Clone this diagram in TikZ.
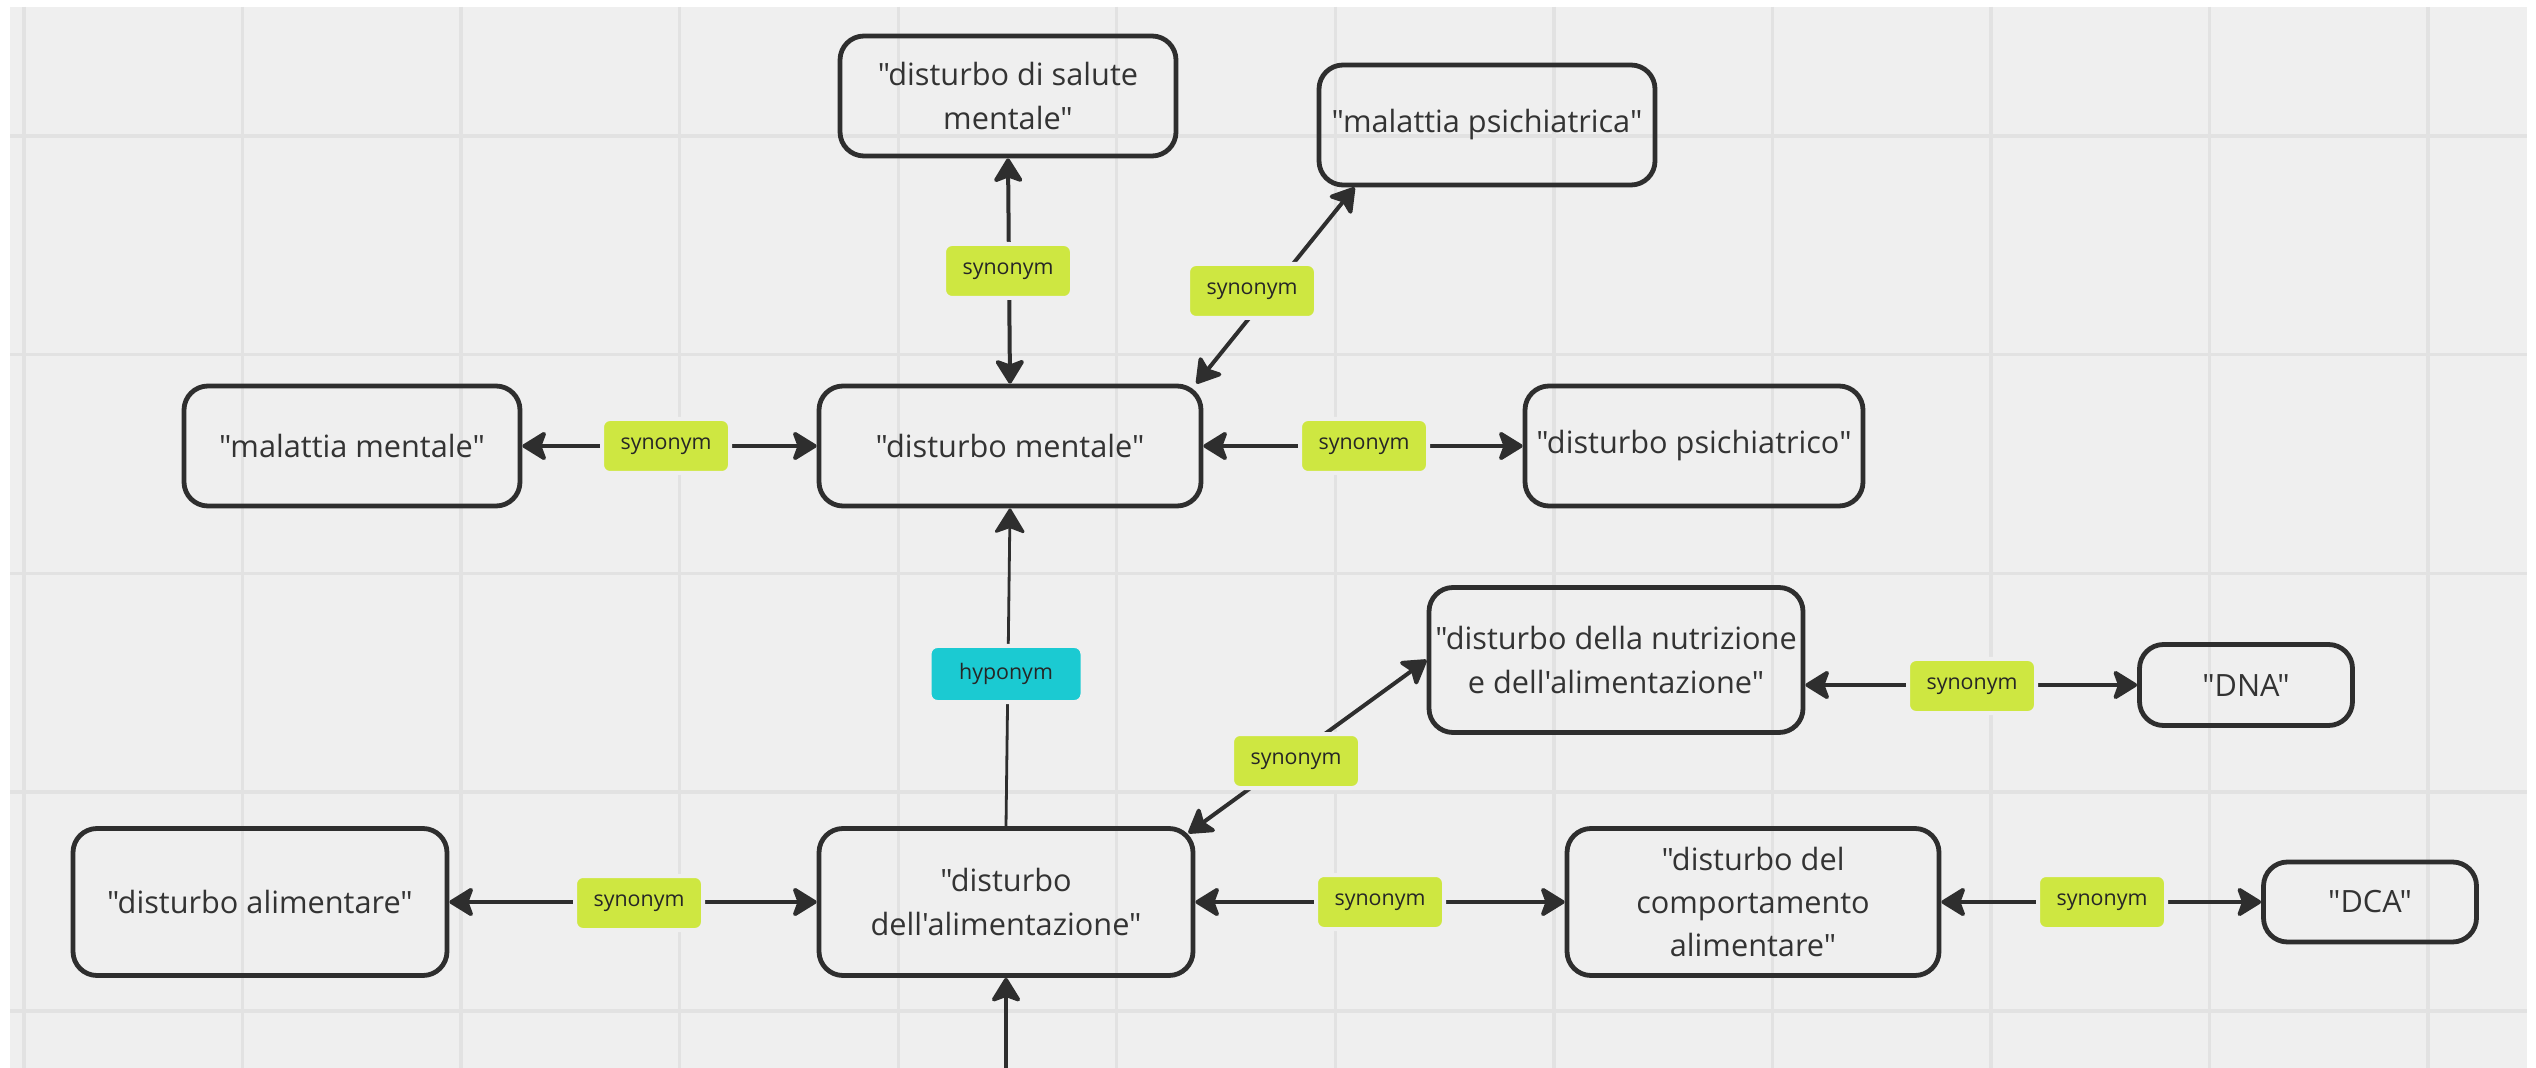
\documentclass[tikz,border=0pt]{standalone}
\usepackage{fontspec}
\newfontfamily\osans{Open Sans}
\usetikzlibrary{arrows.meta}
\definecolor{bgc}{HTML}{EFEFEF}
\definecolor{gridc}{HTML}{E2E2E2}
\definecolor{ink}{HTML}{2E2E2E}
\definecolor{txt}{HTML}{333333}
\definecolor{syn}{HTML}{CEE741}
\definecolor{hypc}{HTML}{1BCAD2}
\begin{document}
\begin{tikzpicture}[x=0.5pt,y=-0.5pt,
 concept/.style={draw=ink, line width=2.4pt, rounded corners=12pt, align=center, text=txt,
   font=\osans\fontsize{15.35}{21.6}\selectfont, inner sep=0pt},
 rel/.style={fill=syn, draw=bgc, line width=2pt, rounded corners=4pt, minimum width=64pt,
   minimum height=27pt, inner sep=0pt, text=black!85, font=\osans\fontsize{10.7}{12}\selectfont},
 hyprel/.style={rel, fill=hypc, minimum width=76.5pt, minimum height=28pt},
 conn/.style={draw=ink, line width=2pt, {Stealth[length=13.5pt,width=16.5pt,inset=3pt,round]}-{Stealth[length=13.5pt,width=16.5pt,inset=3pt,round]}},
 oneway/.style={draw=ink, line width=2pt, -{Stealth[length=13.5pt,width=16.5pt,inset=3pt,round]}},
 thinway/.style={draw=ink, line width=1.4pt, -{Stealth[length=13.5pt,width=16.5pt,inset=3pt,round]}},
]
% canvas
\fill[white] (0,0) rectangle (2536,1068);
\useasboundingbox (0,0) rectangle (2536,1068);
\fill[bgc] (10,7) rectangle (2527,1068);
\foreach \k in {0,...,11} \draw[gridc, line width=1.7pt] ({24+218.55*\k},7) -- ({24+218.55*\k},1068);
\foreach \k in {0,...,4} \draw[gridc, line width=1.7pt] (10,{136+218.7*\k}) -- (2527,{136+218.7*\k});

% concept boxes
\node[concept, minimum width=168pt, minimum height=60pt] (ms) at (352,446) {"malattia mentale"};
\node[concept, minimum width=168pt, minimum height=60pt] (dsm) at (1008,96) {"disturbo di salute\\mentale"};
\node[concept, minimum width=168pt, minimum height=60pt] (mp) at (1487,125) {"malattia psichiatrica"};
\node[concept, minimum width=191pt, minimum height=60pt] (dm) at (1010,446) {"disturbo mentale"};
\node[concept, minimum width=169pt, minimum height=60pt] (dp) at (1694,446) {"disturbo psichiatrico"};
\node[concept, minimum width=187pt, minimum height=72.5pt] (nutr) at (1616,660) {"disturbo della nutrizione\\e dell'alimentazione"};
\node[concept, minimum width=106.5pt, minimum height=40.5pt] (dna) at (2246,685) {"DNA"};
\node[concept, minimum width=187pt, minimum height=73.5pt] (dal) at (260,902) {"disturbo alimentare"};
\node[concept, minimum width=187pt, minimum height=73.5pt] (dda) at (1006,902) {"disturbo\\dell'alimentazione"};
\node[concept, minimum width=186pt, minimum height=73.5pt] (comp) at (1753,902) {"disturbo del\\comportamento\\alimentare"};
\node[concept, minimum width=106.5pt, minimum height=40pt] (dca) at (2370,902) {"DCA"};
\coordinate (bot) at (1006,1068);

% connectors
\draw[conn] (ms.east) -- (dm.west);
\draw[conn] (dm.north) -- (dsm.south);
\draw[conn] ([xshift=-3.5pt]dm.north east) -- ([xshift=19pt]mp.south west);
\draw[conn] (dm.east) -- (dp.west);
\draw[thinway] (dda.north) -- (dm.south);
\draw[conn] ([xshift=-3.5pt,yshift=-3.5pt]dda.north east) -- (nutr.west);
\draw[conn] (nutr.east |- dna.west) -- (dna.west);
\draw[conn] (dal.east) -- (dda.west);
\draw[conn] (dda.east) -- (comp.west);
\draw[conn] (comp.east) -- (dca.west);
\draw[oneway] (bot) -- (dda.south);

% relation labels
\node[rel] (l1) at (666,446) {synonym};
\node[rel] (l2) at (1008,271) {synonym};
\node[rel] (l3) at (1252,291) {synonym};
\node[rel] (l4) at (1364,446) {synonym};
\node[hyprel] (hy) at (1006,674) {hyponym};
\node[rel] (l5) at (1296,761) {synonym};
\node[rel] (l6) at (1972,686) {synonym};
\node[rel] (l7) at (639,903) {synonym};
\node[rel] (l8) at (1380,902) {synonym};
\node[rel] (l9) at (2102,902) {synonym};
\end{tikzpicture}
\end{document}
